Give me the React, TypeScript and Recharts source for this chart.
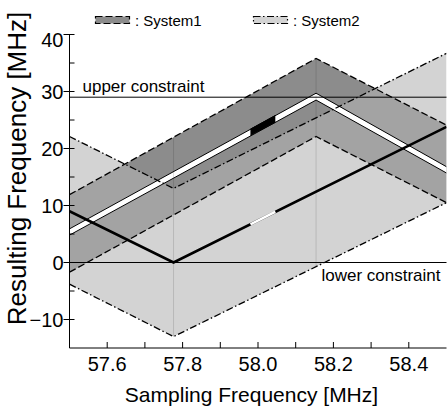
import React from 'react';
import { ComposedChart, Area, Line, XAxis, YAxis, ReferenceLine } from 'recharts';

// System1 band (Λ shape) and the white gap inside it
const sys1Freq = [57.5, 58.154, 58.5];
const sys1Upper = [11.9, 35.8, 24.1];
const sys1Lower = [-1.7, 22.1, 10.5];
const gapUpper = [5.9, 29.7, 16.8];
const gapLower = [4.8, 28.5, 15.7];

// System2 band (V shape) and the signal line
const sys2Freq = [57.5, 57.776, 58.5];
const sys2Upper = [22.1, 13.0, 36.7];
const sys2Lower = [-3.8, -13.0, 10.5];
const signal = [9.0, 0, 23.8];

// short highlighted stretch
const markFreq = [57.98, 58.046];
const markGapUpper = [23.4, 25.8];
const markGapLower = [22.3, 24.6];
const markSignal = [6.7, 8.9];

// patch seams
const seamFreq = [57.776, 58.154];
const seamLow = [-13, -0.7];
const seamHigh = [21.9, 35.8];

const upperConstraint = 29;
const lowerConstraint = 0;

const xTicks = [57.6, 57.7, 57.8, 57.9, 58.0, 58.1, 58.2, 58.3, 58.4];
const yTicks = [-10, -5, 0, 5, 10, 15, 20, 25, 30, 35, 40];

const FONT = '"Liberation Sans", Arial, sans-serif';
const DASH = '7 3';
const DASHDOT = '7 2.5 1.5 2.5';

const sys1Data = sys1Freq.map((x, i) => ({
  x,
  band: [sys1Lower[i], sys1Upper[i]],
  hi: sys1Upper[i],
  lo: sys1Lower[i],
  gap: [gapLower[i], gapUpper[i]],
}));
const sys2Data = sys2Freq.map((x, i) => ({
  x,
  band: [sys2Lower[i], sys2Upper[i]],
  hi: sys2Upper[i],
  lo: sys2Lower[i],
  sig: signal[i],
}));
const markData = markFreq.map((x, i) => ({
  x,
  gap: [markGapLower[i], markGapUpper[i]],
  sig: markSignal[i],
}));

const XTickBottom = (props: any) => {
  const { x, y, payload } = props;
  const v = payload.value as number;
  const labeled = Math.round(v * 10) % 2 === 0;
  return (
    <g>
      <line x1={x} x2={x} y1={y} y2={y - 6} stroke="#000" />
      {labeled && (
        <text x={x} y={y + 23} textAnchor="middle" fontSize={20} fontFamily={FONT} fill="#000">
          {v.toFixed(1)}
        </text>
      )}
    </g>
  );
};

const XTickTop = (props: any) => {
  const { x, y } = props;
  return <line x1={x} x2={x} y1={y} y2={y + 6} stroke="#000" />;
};

const YTickLeft = (props: any) => {
  const { x, y, payload } = props;
  const v = payload.value as number;
  const labeled = v % 10 === 0;
  return (
    <g>
      <line x1={labeled ? x - 6 : x} x2={x + 5} y1={y} y2={y} stroke="#000" />
      {labeled && (
        <text
          x={x - 6}
          y={y + (v === 40 ? 5 : 0)}
          dy="0.36em"
          textAnchor="end"
          fontSize={20}
          fontFamily={FONT}
          fill="#000"
        >
          {v < 0 ? '\u2212' + Math.abs(v) : v}
        </text>
      )}
    </g>
  );
};

const YTickRight = (props: any) => {
  const { x, y } = props;
  return <line x1={x} x2={x - 4} y1={y} y2={y} stroke="#000" />;
};

export default function App() {
  return (
    <div style={{ position: 'absolute', left: 0, top: 0, width: 448, height: 406, background: '#fff' }}>
      <ComposedChart width={448} height={406} margin={{ top: 34.5, right: 1.5, bottom: 0, left: 0 }}>
        <XAxis
          dataKey="x"
          type="number"
          domain={[57.5, 58.5]}
          allowDataOverflow
          ticks={xTicks}
          interval={0}
          height={58}
          tickSize={0}
          tickMargin={0}
          tickLine={false}
          axisLine={{ stroke: '#000' }}
          tick={XTickBottom}
        />
        <XAxis
          xAxisId="top"
          orientation="top"
          dataKey="x"
          type="number"
          domain={[57.5, 58.5]}
          allowDataOverflow
          ticks={xTicks}
          interval={0}
          height={0}
          tickSize={0}
          tickMargin={0}
          tickLine={false}
          axisLine={{ stroke: '#000' }}
          tick={XTickTop}
        />
        <YAxis
          type="number"
          domain={[-15, 40]}
          allowDataOverflow
          ticks={yTicks}
          interval={0}
          width={69.5}
          tickSize={0}
          tickMargin={0}
          tickLine={false}
          axisLine={{ stroke: '#000' }}
          tick={YTickLeft}
        />
        <YAxis
          yAxisId="right"
          orientation="right"
          type="number"
          domain={[-15, 40]}
          allowDataOverflow
          ticks={yTicks}
          interval={0}
          width={0}
          tickSize={0}
          tickMargin={0}
          tickLine={false}
          axisLine={{ stroke: '#000' }}
          tick={YTickRight}
        />

        <Area data={sys1Data} dataKey="band" type="linear" fill="#8c8c8c" fillOpacity={1} stroke="none" isAnimationActive={false} />
        <Area data={sys2Data} dataKey="band" type="linear" fill="#b4b4b4" fillOpacity={0.59} stroke="none" isAnimationActive={false} />

        {seamFreq.map((f, i) => (
          <ReferenceLine
            key={'seam' + i}
            segment={[{ x: f, y: seamLow[i] }, { x: f, y: seamHigh[i] }]}
            stroke="#000"
            strokeOpacity={0.13}
            strokeWidth={1}
          />
        ))}

        <Area data={sys1Data} dataKey="gap" type="linear" fill="#fff" fillOpacity={1} stroke="#000" strokeWidth={1} isAnimationActive={false} />
        <Area data={markData} dataKey="gap" type="linear" fill="#000" fillOpacity={1} stroke="#000" strokeWidth={1} isAnimationActive={false} />

        <ReferenceLine
          y={upperConstraint}
          stroke="#000"
          strokeWidth={1}
          label={(p: any) => (
            <text x={p.viewBox.x + 13} y={p.viewBox.y - 5} fontSize={17} fontFamily={FONT} fill="#000">
              upper constraint
            </text>
          )}
        />
        <ReferenceLine
          y={lowerConstraint}
          stroke="#000"
          strokeWidth={1}
          label={(p: any) => (
            <text
              x={p.viewBox.x + p.viewBox.width - 6}
              y={p.viewBox.y + 18.5}
              textAnchor="end"
              fontSize={17}
              fontFamily={FONT}
              fill="#000"
            >
              lower constraint
            </text>
          )}
        />

        <Line data={sys1Data} dataKey="hi" type="linear" stroke="#000" strokeWidth={1.3} strokeDasharray={DASH} dot={false} isAnimationActive={false} />
        <Line data={sys1Data} dataKey="lo" type="linear" stroke="#000" strokeWidth={1.3} strokeDasharray={DASH} dot={false} isAnimationActive={false} />
        <Line data={sys2Data} dataKey="hi" type="linear" stroke="#000" strokeWidth={1.3} strokeDasharray={DASHDOT} dot={false} isAnimationActive={false} />
        <Line data={sys2Data} dataKey="lo" type="linear" stroke="#000" strokeWidth={1.3} strokeDasharray={DASHDOT} dot={false} isAnimationActive={false} />
        <Line data={sys2Data} dataKey="sig" type="linear" stroke="#000" strokeWidth={2.6} dot={false} isAnimationActive={false} />
        <Line data={markData} dataKey="sig" type="linear" stroke="#fff" strokeWidth={2.6} dot={false} isAnimationActive={false} />
      </ComposedChart>

      <svg
        width={448}
        height={406}
        style={{ position: 'absolute', left: 0, top: 0, pointerEvents: 'none' }}
      >
        <rect x={95.5} y={16.5} width={34} height={7} fill="#8c8c8c" stroke="#000" strokeWidth={1.2} strokeDasharray={DASH} />
        <text x={135} y={25.5} fontSize={15} fontFamily={FONT} fill="#000">: System1</text>
        <rect x={253.5} y={16.5} width={34} height={7} fill="#d3d3d3" stroke="#000" strokeWidth={1.2} strokeDasharray={DASHDOT} />
        <text x={293} y={25.5} fontSize={15} fontFamily={FONT} fill="#000">: System2</text>

        <text x={251.5} y={401.5} textAnchor="middle" fontSize={21} fontFamily={FONT} fill="#000">
          Sampling Frequency [MHz]
        </text>
        <text
          x={26}
          y={168.5}
          textAnchor="middle"
          fontSize={26}
          fontFamily={FONT}
          fill="#000"
          transform="rotate(-90 26 168.5)"
        >
          Resulting Frequency [MHz]
        </text>
      </svg>
    </div>
  );
}
